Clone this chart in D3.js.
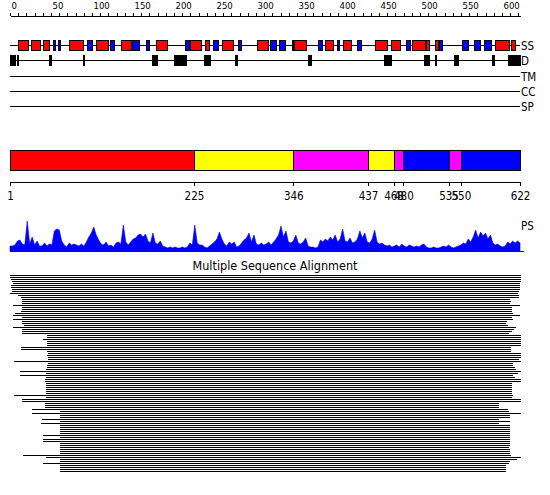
<!DOCTYPE html>
<html><head><meta charset="utf-8">
<script src="https://cdn.jsdelivr.net/npm/d3@7"></script>
<style>
body{margin:0;background:#fff}
svg{display:block}
text{font-family:"DejaVu Sans Condensed","DejaVu Sans",sans-serif;fill:#000}
</style>
</head><body>
<svg id="chart" width="550" height="495"></svg>
<script>
// ---------------- data ----------------
const seqLength = 622;
const rulerTicks = d3.range(0, 621, 10);
const rulerLabels = [0, 50, 100, 150, 200, 250, 300, 350, 400, 450, 500, 550, 600];

const ssType  = ["H","H","H","E","E","H","E","H","E","H","E","E","H","E","H","H","E","H","E","H","E","E","E","H","E","H","E","H","E","E","H","H","E","H","H","H","E","E","E","E","H","H"];
const ssStart = [11,27,41,53,59,73,95,106,123,136,150,167,179,214,220,238,248,259,279,302,318,329,344,347,376,384,399,406,423,432,445,465,483,491,507,519,523,551,566,578,591,611];
const ssEnd   = [23,38,49,56,62,90,101,120,128,148,158,170,192,219,234,243,254,273,282,315,325,336,346,362,381,394,402,416,428,432,460,476,488,506,511,522,527,559,573,587,609,616];

const disStart = [1,9,48,90,174,201,237,275,364,457,505,518,542,588,607];
const disEnd   = [7,11,51,91,180,215,245,278,367,465,511,520,546,590,622];

const trackNames = ["SS","D","TM","CC","SP"];

const domainStart = [1,225,346,437,468,480,535,550];
const domainEnd   = [225,346,437,468,480,535,550,622];
const domainType  = ["A","B","C","B","C","D","C","D"];
const domainTicks = [1,225,346,437,468,480,535,550,622];

const psStep = 3;
const psScore = [
 5,5,6,10,11,7,6,30,7,14,
 6,10,5,5,8,5,7,6,20,22,
 21,10,6,4,8,6,7,6,5,7,
 5,9,14,18,24,16,11,7,6,9,
 5,6,4,8,9,7,26,9,6,9,
 12,13,16,17,14,17,10,8,18,8,
 7,10,5,4,3,4,3,4,3,3,
 4,3,4,8,6,26,8,6,6,4,
 3,5,7,9,12,19,12,7,5,9,
 7,9,4,5,8,11,13,18,9,16,
 7,6,8,6,7,9,6,9,12,16,
 25,14,20,9,8,10,16,8,7,9,
 13,5,4,4,3,4,11,9,12,10,
 14,11,16,9,12,22,10,9,13,8,
 9,12,20,13,18,9,8,12,21,9,
 7,8,6,5,6,4,5,6,4,7,
 5,4,6,5,4,5,4,6,7,4,
 3,3,4,3,3,4,5,4,6,4,
 3,4,5,6,8,7,12,9,14,21,
 13,19,15,18,12,16,8,6,7,5,
 4,5,9,7,10,8,10,8];

const msaStart = [
 1,1,2,3,5,2,2,3,3,1,
 11,14,16,16,16,5,16,16,14,7,
 5,16,5,16,16,18,5,16,16,16,
 46,46,41,46,46,46,14,14,46,47,
 46,47,47,6,47,46,46,45,13,45,
 13,45,44,44,45,45,45,45,45,45,
 6,45,16,16,44,44,44,28,62,28,
 62,62,40,62,39,62,62,62,62,62,
 41,62,41,41,62,62,62,62,62,62,
 17,45,62,62,41,62,62,62,62];
const msaEnd = [
 622,622,622,622,621,621,621,621,620,618,
 620,620,609,610,609,621,611,611,611,612,
 621,611,612,605,604,606,616,613,611,607,
 622,622,622,622,622,622,610,610,610,622,
 622,622,620,622,612,612,615,616,622,618,
 612,615,622,622,611,611,611,611,611,611,
 612,611,622,622,595,595,595,606,607,622,
 609,609,595,609,595,609,609,609,609,609,
 609,609,609,609,608,609,607,608,609,608,
 610,622,617,609,607,604,604,604,604];

// ---------------- drawing ----------------
const svg = d3.select("#chart");
const ruler = d3.scaleLinear().domain([0, seqLength]).range([10, 520]);
const x = d3.scaleLinear().domain([1, seqLength]).range([10, 520]);
const px = v => Math.round(x(v)) + 0.5;

const ssColor = d3.scaleOrdinal().domain(["H","E"]).range(["#ff0000","#0000ff"]);
const domColor = d3.scaleOrdinal().domain(["A","B","C","D"]).range(["#ff0000","#ffff00","#ff00ff","#0000ff"]);

// top ruler
const rg = svg.append("g").attr("transform","translate(0,15.5)")
  .call(d3.axisTop(ruler).tickValues(rulerTicks).tickSize(3).tickSizeOuter(0).tickPadding(4)
    .tickFormat(d => rulerLabels.includes(d) ? d : ""));
rg.select(".domain").attr("stroke","#000").attr("shape-rendering","crispEdges");
rg.selectAll(".tick line").attr("stroke","#000").attr("shape-rendering","crispEdges");
rg.selectAll(".tick text").attr("text-anchor","start").attr("x",1)
  .style("font-size","9.5px").attr("fill","#000");

// tracks
const trackY = d3.scalePoint().domain(trackNames).range([45, 106]);
const tg = svg.append("g");
trackNames.forEach(name => {
  const y = Math.round(trackY(name)) + 0.5;
  tg.append("line").attr("x1", x(1)).attr("x2", x(seqLength)).attr("y1", y).attr("y2", y)
    .attr("stroke","#000").attr("shape-rendering","crispEdges");
  tg.append("text").attr("x", 521).attr("y", y + 4.5).text(name).style("font-size","11.5px");
});

// SS elements
const ssY = Math.round(trackY("SS")) + 0.5;
tg.selectAll("rect.ss").data(ssType).join("rect").attr("class","ss")
  .attr("x", (d,i) => px(ssStart[i]))
  .attr("width", (d,i) => Math.round(x(ssEnd[i])) - Math.round(x(ssStart[i])))
  .attr("y", ssY - 5).attr("height", 10)
  .attr("fill", d => ssColor(d)).attr("stroke","#000").attr("shape-rendering","crispEdges");

// disorder
const dY = Math.round(trackY("D")) + 0.5;
tg.selectAll("rect.dis").data(disStart).join("rect").attr("class","dis")
  .attr("x", (d,i) => px(disStart[i]))
  .attr("width", (d,i) => Math.round(x(disEnd[i])) - Math.round(x(disStart[i])))
  .attr("y", dY - 5).attr("height", 10)
  .attr("fill","#000").attr("stroke","#000").attr("shape-rendering","crispEdges");

// domain bar
const dg = svg.append("g");
dg.selectAll("rect").data(domainType).join("rect")
  .attr("x", (d,i) => px(domainStart[i]))
  .attr("width", (d,i) => Math.round(x(domainEnd[i])) - Math.round(x(domainStart[i])))
  .attr("y", 150.5).attr("height", 20)
  .attr("fill", d => domColor(d)).attr("stroke","#000").attr("shape-rendering","crispEdges");

const da = svg.append("g").attr("transform","translate(0,181.5)")
  .call(d3.axisBottom(x).tickValues(domainTicks).tickSize(4).tickSizeOuter(0).tickPadding(6).tickFormat(d3.format("d")));
da.select(".domain").attr("stroke","#000").attr("shape-rendering","crispEdges");
da.selectAll(".tick line").attr("stroke","#000").attr("shape-rendering","crispEdges");
da.selectAll(".tick text").style("font-size","11.5px").attr("fill","#000");

// PS profile
const yPS = d3.scaleLinear().domain([0, 31]).range([251, 220]);
const psX = (d,i) => x(1 + i*psStep);
svg.append("path").datum(psScore)
  .attr("d", d3.area().x(psX).y0(251).y1(d => yPS(d)))
  .attr("fill","#0000ff").attr("stroke","#0000ff").attr("stroke-width",0.6);
svg.append("line").attr("x1", 10).attr("x2", 524).attr("y1", 251.5).attr("y2", 251.5)
  .attr("stroke","#0000ff").attr("shape-rendering","crispEdges");
svg.append("text").attr("x", 521).attr("y", 230).text("PS").style("font-size","11.5px");

// MSA
svg.append("text").attr("x", 275).attr("y", 270).attr("text-anchor","middle")
  .text("Multiple Sequence Alignment").style("font-size","12.5px");
const rowY = d3.scaleLinear().domain([0, msaStart.length - 1]).range([275, 275 + 2*(msaStart.length - 1)]);
svg.append("g").selectAll("rect").data(msaStart).join("rect")
  .attr("x", (d,i) => Math.round(x(msaStart[i])))
  .attr("width", (d,i) => Math.round(x(msaEnd[i])) - Math.round(x(msaStart[i])) + 1)
  .attr("y", (d,i) => Math.round(rowY(i))).attr("height", 1)
  .attr("fill","#000").attr("shape-rendering","crispEdges");
</script>
</body></html>
